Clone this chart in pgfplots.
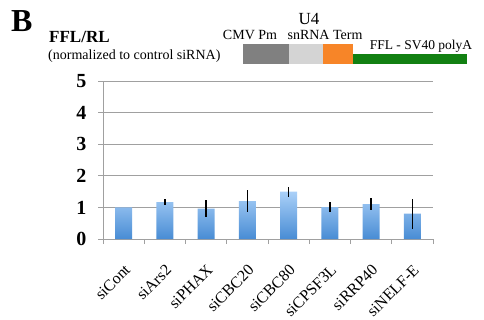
\documentclass[border=0pt]{standalone}
\usepackage{pgfplots}
\pgfplotsset{compat=1.18}
\usepackage{fontspec}
\setmainfont{Liberation Serif}
\definecolor{bartop}{RGB}{170,208,248}
\definecolor{barbot}{RGB}{72,140,212}
\definecolor{gridc}{RGB}{160,160,160}
\definecolor{cmv}{RGB}{128,128,128}
\definecolor{snr}{RGB}{212,212,212}
\definecolor{term}{RGB}{247,133,40}
\definecolor{ffl}{RGB}{18,128,18}
\begin{document}
\begin{tikzpicture}[x=1pt,y=1pt]
\useasboundingbox (0,0) rectangle (484,319);
% header
\node[anchor=base west,font=\fontsize{32}{32}\selectfont\bfseries,inner sep=0pt] at (11,287) {B};
\node[anchor=base west,font=\fontsize{17}{17}\selectfont\bfseries,inner sep=0pt] at (49,276) {FFL/RL};
\node[anchor=base west,font=\fontsize{14}{14}\selectfont,inner sep=0pt] at (48,259) {(normalized to control siRNA)};
\fill[cmv] (243,255) rectangle (289,275);
\fill[snr] (289,255) rectangle (323,275);
\fill[term] (323,255) rectangle (353,275);
\fill[ffl] (353,255) rectangle (467,265);
\node[anchor=base,font=\fontsize{17}{17}\selectfont,inner sep=0pt] at (309,294) {U4};
\node[anchor=base,font=\fontsize{14}{14}\selectfont,inner sep=0pt] at (250,279) {CMV Pm};
\node[anchor=base,font=\fontsize{14}{14}\selectfont,inner sep=0pt] at (325,279) {snRNA Term};
\node[anchor=base,font=\fontsize{13.5}{13.5}\selectfont,inner sep=0pt] at (421,269) {FFL - SV40 polyA};
\begin{axis}[
  at={(103pt,80pt)}, anchor=south west,
  scale only axis, width=330pt, height=158pt,
  xmin=-0.5, xmax=7.5, ymin=0, ymax=5,
  axis x line*=bottom, axis y line*=left,
  axis line style={gridc, line width=0.8pt, -},
  ymajorgrids, grid style={gridc, line width=0.8pt},
  ytick={0,1,2,3,4,5},
  xtick={0,...,7},
  xticklabels={siCont,siArs2,siPHAX,siCBC20,siCBC80,siCPSF3L,siRRP40,siNELF-E},
  minor xtick={-0.5,0.5,...,7.5},
  major x tick style={draw=none},
  minor x tick style={gridc, line width=0.8pt},
  ytick style={gridc, line width=0.8pt},
  tick align=outside, major tick length=5pt, minor tick length=5pt,
  /pgf/number format/assume math mode=true,
  yticklabel style={font=\fontsize{20}{20}\selectfont\bfseries, xshift=-8pt},
  xticklabel style={font=\fontsize{16}{16}\selectfont, xshift=0pt, yshift=-18pt, rotate=45, anchor=north east, inner sep=1pt},
  clip=false,
]
\addplot[ybar, bar width=17pt, draw=none, top color=bartop, bottom color=barbot,
  error bars/.cd, y dir=both, y explicit, error bar style={black, line width=1.3pt}, error mark=none]
  coordinates {
  (0,1.00) +- (0,0)
  (1,1.17) +- (0,0.09)
  (2,0.96) +- (0,0.26)
  (3,1.20) +- (0,0.34)
  (4,1.50) +- (0,0.16)
  (5,1.01) +- (0,0.16)
  (6,1.10) +- (0,0.19)
  (7,0.80) +- (0,0.48)
  };
\end{axis}
\end{tikzpicture}
\end{document}
